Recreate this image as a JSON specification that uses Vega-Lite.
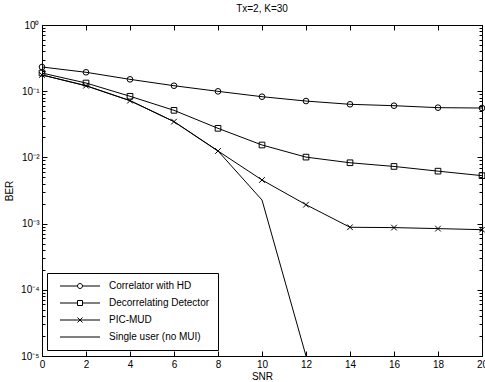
{
  "$schema": "https://vega.github.io/schema/vega-lite/v6.json",
  "width": 440,
  "height": 331,
  "autosize": {"type": "none"},
  "padding": {"left": 42, "top": 25, "right": 3, "bottom": 26},
  "background": "white",
  "title": {"text": "Tx=2, K=30", "fontSize": 10, "fontWeight": "normal", "font": "Liberation Sans", "color": "black", "offset": 6},
  "config": {
    "view": {"stroke": "black", "strokeWidth": 1},
    "font": "Liberation Sans",
    "axis": {"domainColor": "black", "tickColor": "black", "labelColor": "black", "titleColor": "black", "grid": false, "labelFont": "Liberation Sans", "labelFontSize": 10, "titleFont": "Liberation Sans", "titleFontSize": 10, "titleFontWeight": "normal"}
  },
  "data": {"values": [
    {"series": "Correlator with HD", "snr": 0, "ber": 0.232},
    {"series": "Correlator with HD", "snr": 2, "ber": 0.193},
    {"series": "Correlator with HD", "snr": 4, "ber": 0.151},
    {"series": "Correlator with HD", "snr": 6, "ber": 0.121},
    {"series": "Correlator with HD", "snr": 8, "ber": 0.0995},
    {"series": "Correlator with HD", "snr": 10, "ber": 0.0826},
    {"series": "Correlator with HD", "snr": 12, "ber": 0.071},
    {"series": "Correlator with HD", "snr": 14, "ber": 0.0634},
    {"series": "Correlator with HD", "snr": 16, "ber": 0.0604},
    {"series": "Correlator with HD", "snr": 18, "ber": 0.0564},
    {"series": "Correlator with HD", "snr": 20, "ber": 0.0557},
    {"series": "Decorrelating Detector", "snr": 0, "ber": 0.188},
    {"series": "Decorrelating Detector", "snr": 2, "ber": 0.133},
    {"series": "Decorrelating Detector", "snr": 4, "ber": 0.0838},
    {"series": "Decorrelating Detector", "snr": 6, "ber": 0.0514},
    {"series": "Decorrelating Detector", "snr": 8, "ber": 0.0275},
    {"series": "Decorrelating Detector", "snr": 10, "ber": 0.0154},
    {"series": "Decorrelating Detector", "snr": 12, "ber": 0.0101},
    {"series": "Decorrelating Detector", "snr": 14, "ber": 0.0083},
    {"series": "Decorrelating Detector", "snr": 16, "ber": 0.0073},
    {"series": "Decorrelating Detector", "snr": 18, "ber": 0.0062},
    {"series": "Decorrelating Detector", "snr": 20, "ber": 0.0053},
    {"series": "PIC-MUD", "snr": 0, "ber": 0.176},
    {"series": "PIC-MUD", "snr": 2, "ber": 0.121},
    {"series": "PIC-MUD", "snr": 4, "ber": 0.072},
    {"series": "PIC-MUD", "snr": 6, "ber": 0.0347},
    {"series": "PIC-MUD", "snr": 8, "ber": 0.0125},
    {"series": "PIC-MUD", "snr": 10, "ber": 0.00456},
    {"series": "PIC-MUD", "snr": 12, "ber": 0.00193},
    {"series": "PIC-MUD", "snr": 14, "ber": 0.00088},
    {"series": "PIC-MUD", "snr": 16, "ber": 0.00087},
    {"series": "PIC-MUD", "snr": 18, "ber": 0.00084},
    {"series": "PIC-MUD", "snr": 20, "ber": 0.00081},
    {"series": "Single user (no MUI)", "snr": 0, "ber": 0.176},
    {"series": "Single user (no MUI)", "snr": 2, "ber": 0.121},
    {"series": "Single user (no MUI)", "snr": 4, "ber": 0.072},
    {"series": "Single user (no MUI)", "snr": 6, "ber": 0.0347},
    {"series": "Single user (no MUI)", "snr": 8, "ber": 0.0125},
    {"series": "Single user (no MUI)", "snr": 10, "ber": 0.00227},
    {"series": "Single user (no MUI)", "snr": 12, "ber": 0.00001}
  ]},
  "layer": [
    {
      "mark": {"type": "line", "color": "black", "strokeWidth": 1, "clip": true},
      "encoding": {
        "detail": {"field": "series"},
        "x": {"field": "snr", "type": "quantitative", "scale": {"domain": [0, 20], "nice": false},
          "axis": {"orient": "bottom", "title": "SNR", "values": [0, 2, 4, 6, 8, 10, 12, 14, 16, 18, 20], "tickSize": -5, "labelPadding": 8, "titlePadding": 2, "labelFlush": false, "labelOverlap": false}},
        "y": {"field": "ber", "type": "quantitative", "scale": {"type": "log", "domain": [0.00001, 1], "nice": false},
          "axis": {"orient": "left", "title": "BER", "titlePadding": 6,
            "values": [0.00001, 0.00002, 0.00003, 0.00004, 0.00005, 0.00006, 0.00007, 0.00008, 0.00009, 0.0001, 0.0002, 0.0003, 0.0004, 0.0005, 0.0006, 0.0007, 0.0008, 0.0009, 0.001, 0.002, 0.003, 0.004, 0.005, 0.006, 0.007, 0.008, 0.009, 0.01, 0.02, 0.03, 0.04, 0.05, 0.06, 0.07, 0.08, 0.09, 0.1, 0.2, 0.3, 0.4, 0.5, 0.6, 0.7, 0.8, 0.9, 1],
            "labelExpr": "abs(log(datum.value)/LN10 - round(log(datum.value)/LN10)) < 0.001 ? '10' + (datum.value >= 0.999 ? '⁰' : '⁻' + ['⁰','¹','²','³','⁴','⁵'][-round(log(datum.value)/LN10)]) : ''",
            "tickSize": {"condition": {"test": "abs(log(datum.value)/LN10 - round(log(datum.value)/LN10)) < 0.001", "value": -5}, "value": -3},
            "labelPadding": 8, "labelOverlap": false, "labelFlush": false}}
      }
    },
    {
      "transform": [{"filter": "datum.series != 'Single user (no MUI)'"}],
      "mark": {"type": "point", "filled": false, "color": "black", "strokeWidth": 1, "size": 32, "opacity": 1},
      "encoding": {
        "shape": {"field": "series", "type": "nominal",
          "scale": {"domain": ["Correlator with HD", "Decorrelating Detector", "PIC-MUD"], "range": ["circle", "square", "M-1,-1L1,1M-1,1L1,-1"]},
          "legend": null},
        "x": {"field": "snr", "type": "quantitative", "scale": {"domain": [0, 20], "nice": false},
          "axis": {"orient": "top", "title": null, "labels": false, "values": [0, 2, 4, 6, 8, 10, 12, 14, 16, 18, 20], "tickSize": -5}},
        "y": {"field": "ber", "type": "quantitative", "scale": {"type": "log", "domain": [0.00001, 1], "nice": false},
          "axis": {"orient": "right", "title": null, "labels": false,
            "values": [0.00001, 0.00002, 0.00003, 0.00004, 0.00005, 0.00006, 0.00007, 0.00008, 0.00009, 0.0001, 0.0002, 0.0003, 0.0004, 0.0005, 0.0006, 0.0007, 0.0008, 0.0009, 0.001, 0.002, 0.003, 0.004, 0.005, 0.006, 0.007, 0.008, 0.009, 0.01, 0.02, 0.03, 0.04, 0.05, 0.06, 0.07, 0.08, 0.09, 0.1, 0.2, 0.3, 0.4, 0.5, 0.6, 0.7, 0.8, 0.9, 1],
            "tickSize": {"condition": {"test": "abs(log(datum.value)/LN10 - round(log(datum.value)/LN10)) < 0.001", "value": -5}, "value": -3}}}
      }
    },
    {
      "transform": [{"filter": "datum.snr == 0"}],
      "mark": {"type": "point", "filled": false, "color": "black", "opacity": 0},
      "encoding": {
        "shape": {"field": "series", "type": "nominal",
          "scale": {"domain": ["Correlator with HD", "Decorrelating Detector", "PIC-MUD", "Single user (no MUI)"],
            "range": ["M-8,0L-1,0M1,0L8,0M-1,0A1,1,0,1,0,1,0A1,1,0,1,0,-1,0", "M-8,0L-1,0M1,0L8,0M-1,-1L1,-1L1,1L-1,1Z", "M-8,0L8,0M-1,-1L1,1M-1,1L1,-1", "M-8,0L8,0"]},
          "legend": {"title": null, "orient": "none", "legendX": 5, "legendY": 248, "fillColor": "white", "strokeColor": "black", "padding": 8,
            "symbolSize": 25, "symbolStrokeWidth": 1, "symbolOpacity": 1, "symbolStrokeColor": "black", "symbolFillColor": "transparent",
            "symbolOffset": 20, "labelOffset": 24, "labelFontSize": 10, "labelFont": "Liberation Sans", "labelColor": "black", "labelLimit": 300, "rowPadding": 7,
            "labelExpr": "datum.label + '\u2003\u2003\u2003'"}},
        "x": {"field": "snr", "type": "quantitative", "scale": {"domain": [0, 20], "nice": false}, "axis": null},
        "y": {"field": "ber", "type": "quantitative", "scale": {"type": "log", "domain": [0.00001, 1], "nice": false}, "axis": null}
      }
    }
  ],
  "resolve": {"scale": {"shape": "independent"}, "axis": {"x": "independent", "y": "independent"}}
}
